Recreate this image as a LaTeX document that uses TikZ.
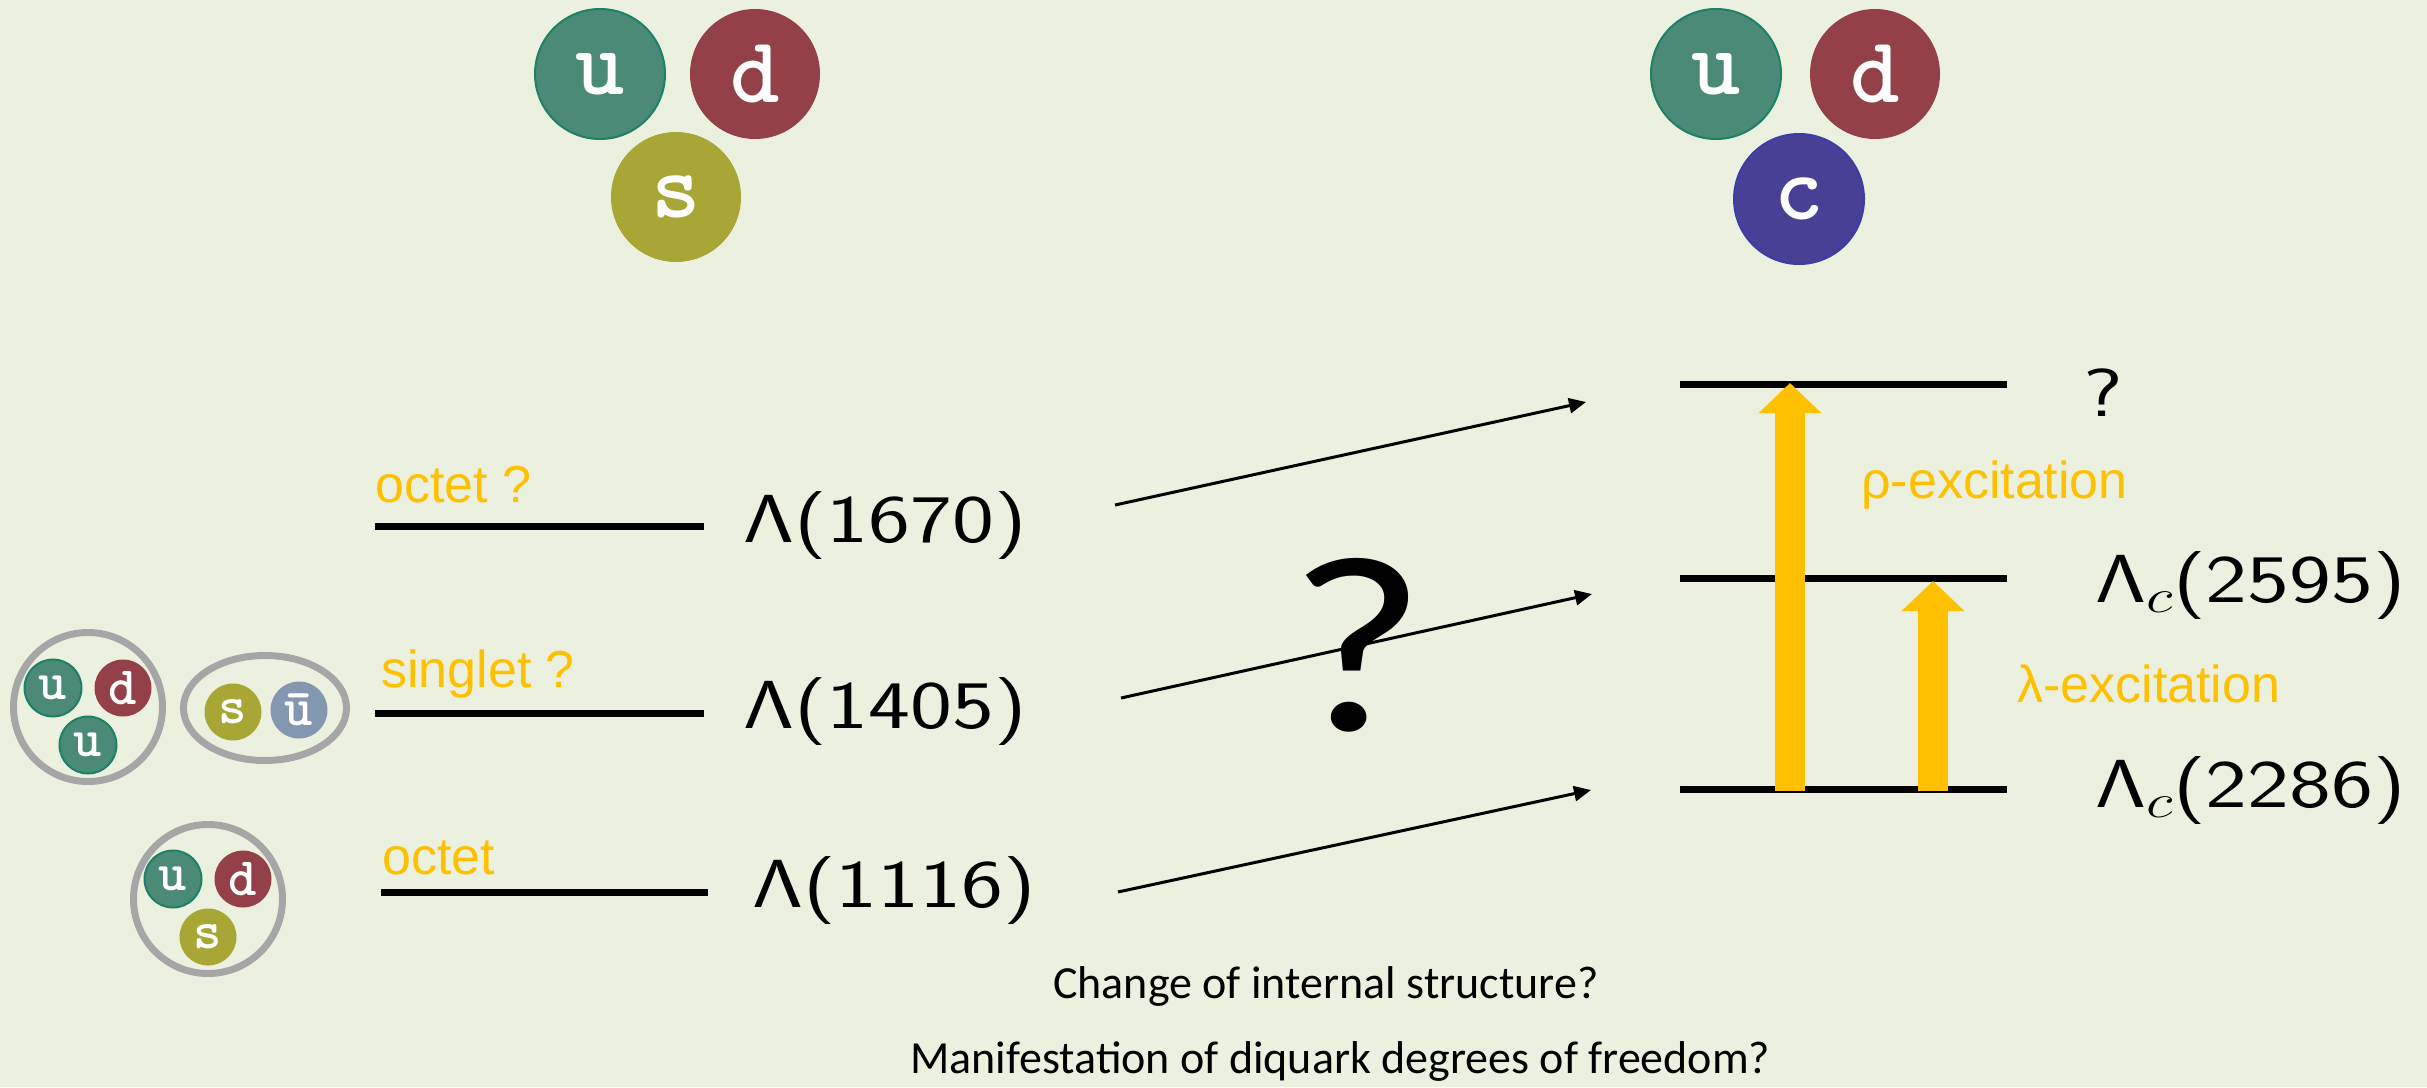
\documentclass[tikz,border=0pt]{standalone}
\usepackage{fix-cm}
\usepackage{amsmath}
\usepackage[no-math]{fontspec}
\usepackage{tikz}
\usetikzlibrary{arrows.meta}

\newfontfamily\labfont{Liberation Sans}
\newfontfamily\calfont{Carlito}

\definecolor{bgcol}{HTML}{EBF1DE}
\definecolor{ucol}{HTML}{4C8A78}
\definecolor{uedge}{HTML}{1E8066}
\definecolor{dcol}{HTML}{944048}
\definecolor{scol}{HTML}{A8A634}
\definecolor{ccol}{HTML}{484094}
\definecolor{cedge}{HTML}{3C3CAA}
\definecolor{ubcol}{HTML}{8497B0}
\definecolor{ringcol}{HTML}{A6A6A6}
\definecolor{exccol}{HTML}{FFC000}

\newcommand{\wide}[1]{\scalebox{1.31}[1]{#1}}

\tikzset{
  big/.style={circle, inner sep=0pt, minimum size=130pt, text=white,
    font=\fontsize{94}{94}\selectfont\ttfamily\bfseries},
  small/.style={circle, inner sep=0pt, minimum size=57pt, text=white,
    font=\fontsize{54}{54}\selectfont\ttfamily\bfseries},
  qu/.style={fill=ucol, draw=uedge, line width=2pt},
  qd/.style={fill=dcol},
  qs/.style={fill=scol},
  qc/.style={fill=ccol, draw=cedge, line width=2pt},
  qub/.style={fill=ubcol},
  ring/.style={draw=ringcol, line width=7pt},
  level/.style={line width=7pt},
  link/.style={line width=3pt, -{Triangle[length=17pt,width=15pt]}},
  fat/.style={draw=exccol, line width=30pt, -{Triangle[length=30pt,width=61pt]}},
  exc/.style={text=exccol, inner sep=0pt, anchor=base west,
    font=\labfont\fontsize{52}{52}\selectfont},
  mass/.style={inner sep=0pt, anchor=base west, font=\fontsize{68}{68}\selectfont},
  note/.style={inner sep=0pt, anchor=base west, font=\calfont\fontsize{46}{46}\selectfont}
}

\begin{document}
\begin{tikzpicture}[x=1pt,y=-1pt]

\fill[bgcol] (0,0) rectangle (2427,1087);
\useasboundingbox (0,0) rectangle (2427,1087);

% strange and charmed baryon
\node[big,qu] (u1) at (600,74) {u};
\node[big,qd] (d1) at (755,74) {d};
\node[big,qs] (s1) at (676,197) {s};

\node[big,qu] (u2) at (1716,74) {u};
\node[big,qd] (d2) at (1875,74) {d};
\node[big,qc] (c2) at (1799,199) {c};

% pictures of the light states
\draw[ring] (88,707) circle (74.5);
\node[small,qu] (ua) at (53,688) {u};
\node[small,qd] (da) at (123,688) {d};
\node[small,qu] (ub) at (88,745) {u};

\draw[ring] (265,708) ellipse (81.5 and 52.5);
\node[small,qs] (sk) at (233,712) {s};
\node[small,qub] (uk) at (299,710) {\=u};

\draw[ring] (208,899) circle (74.5);
\node[small,qu] (uc) at (173,879) {u};
\node[small,qd] (dc) at (243,879) {d};
\node[small,qs] (sc) at (208,937) {s};

% levels
\draw[level] (375,526) -- (704,526);
\draw[level] (375,713) -- (704,713);
\draw[level] (381,892) -- (708,892);

\draw[level] (1680,384) -- (2007,384);
\draw[level] (1680,578) -- (2007,578);
\draw[level] (1680,789) -- (2007,789);

\node[exc] (oct1) at (375,502) {octet ?};
\node[exc] (sing) at (381,687) {singlet ?};
\node[exc] (oct0) at (382,874) {octet};

\node[mass] (L1670) at (743,542) {\wide{$\mathsf{\Lambda}$\sffamily(1670)}};
\node[mass] (L1405) at (743,728) {\wide{$\mathsf{\Lambda}$\sffamily(1405)}};
\node[mass] (L1116) at (752,907) {\wide{$\mathsf{\Lambda}$\sffamily(1116)}};

\node[mass] (Lq) at (2083,416) {\wide{\sffamily ?}};
\node[mass] (Lc2595) at (2095,602) {\wide{$\mathsf{\Lambda}_c$\sffamily(2595)}};
\node[mass] (Lc2286) at (2095,807) {\wide{$\mathsf{\Lambda}_c$\sffamily(2286)}};

% excitations
\coordinate (rho0) at (1790,791);
\coordinate (rho1) at (1790,383);
\coordinate (lam0) at (1933,791);
\coordinate (lam1) at (1933,581);
\draw[fat] (rho0) -- (rho1);
\draw[fat] (lam0) -- (lam1);

\node[exc] (rhotxt) at (1861,498) {ρ-excitation};
\node[exc] (lamtxt) at (2017,702) {λ-excitation};

% correspondence
\coordinate (p1) at (1115,505);
\coordinate (q1) at (1586,402);
\coordinate (p2) at (1121,698);
\coordinate (q2) at (1592,594);
\coordinate (p3) at (1118,892);
\coordinate (q3) at (1591,790);
\draw[link] (p1) -- (q1);
\draw[link] (p2) -- (q2);
\draw[link] (p3) -- (q3);

\node[inner sep=0pt, anchor=base, font=\calfont\fontsize{252}{252}\selectfont] (qbig) at (1357,730) {\scalebox{1.18}[1]{?}};

\node[note] (note1) at (1053,998) {Change of internal structure?};
\node[note] (note2) at (910,1073) {Manifestation of diquark degrees of freedom?};

\end{tikzpicture}
\end{document}
